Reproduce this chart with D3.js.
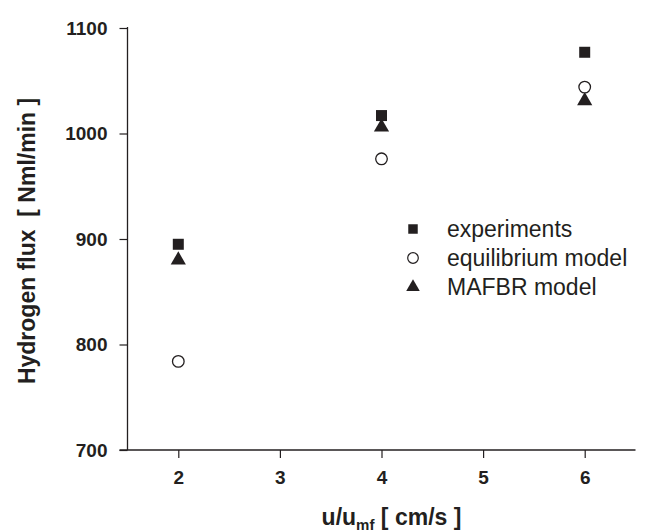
<!DOCTYPE html>
<html>
<head>
<meta charset="utf-8">
<script src="https://cdn.jsdelivr.net/npm/d3@7"></script>
<style>
  body { margin: 0; background: #fff; }
  svg { display: block; font-family: "Liberation Sans", Arial, sans-serif; }
</style>
</head>
<body>
<svg id="chart" width="648" height="532"></svg>
<script>
// Gas velocity ratio positions
const velocities = [2, 4, 6];
// Hydrogen flux [Nml/min] per series
const experiments = [895, 1017, 1077];
const equilibriumModel = [784, 976, 1044];
const mafbrModel = [880, 1006, 1031];

const seriesNames = ["experiments", "equilibrium model", "MAFBR model"];
const xMajorTicks = [2, 3, 4, 5, 6];
const xMinorTicks = [1.5, 2.5, 3.5, 4.5, 5.5, 6.5];
const yMajorTicks = [700, 800, 900, 1000, 1100];
const yMinorTicks = [750, 850, 950, 1050];

const svg = d3.select("#chart");
const ink = "#231f20";

const x = d3.scaleLinear().domain([1.5, 6.5]).range([127.5, 635.5]);
const y = d3.scaleLinear().domain([700, 1100]).range([450, 28]);

// Axes
const gx = svg.append("g").attr("transform", `translate(0,${y(700)})`);
gx.call(d3.axisBottom(x).tickValues(xMinorTicks).tickSize(4).tickFormat(""));
gx.call(d3.axisBottom(x).tickValues(xMajorTicks).tickSize(8).tickPadding(13).tickFormat(d3.format("d")));
gx.selectAll(".domain").remove();
gx.append("line").attr("x1", x(1.5) - 8).attr("x2", x(6.5)).attr("stroke", ink).attr("stroke-width", 1.3);

const gy = svg.append("g").attr("transform", `translate(${x(1.5)},0)`);
gy.call(d3.axisLeft(y).tickValues(yMinorTicks).tickSize(4).tickFormat(""));
gy.call(d3.axisLeft(y).tickValues(yMajorTicks).tickSize(8).tickPadding(12).tickFormat(d3.format("d")));
gy.selectAll(".domain").remove();
gy.append("line").attr("y1", y(1100) - 1).attr("y2", y(700)).attr("stroke", ink).attr("stroke-width", 1.3);

svg.selectAll(".tick line").attr("stroke", ink).attr("stroke-width", 1.2);
svg.selectAll(".tick text")
  .attr("fill", ink)
  .style("font-size", "19px")
  .style("font-weight", "bold")
  .style("font-family", "'Liberation Sans', Arial, sans-serif");

// Axis titles
svg.append("text")
  .attr("transform", `translate(35,${(y(700) + y(1100)) / 2 + 2}) rotate(-90)`)
  .attr("text-anchor", "middle")
  .attr("fill", ink)
  .style("font-size", "23px")
  .style("font-weight", "bold")
  .attr("xml:space", "preserve")
  .text("Hydrogen flux  [ Nml/min ]");

const xt = svg.append("text")
  .attr("x", x(4) + 10)
  .attr("y", 525)
  .attr("text-anchor", "middle")
  .attr("fill", ink)
  .style("font-size", "23px")
  .style("font-weight", "bold");
xt.append("tspan").text("u/u");
xt.append("tspan").attr("dy", 5).style("font-size", "15px").text("mf");
xt.append("tspan").attr("dy", -5).text(" [ cm/s ]");

// Marker shapes
const squareSym = d3.symbol().type(d3.symbolSquare).size(121);
const triSym = d3.symbol().type(d3.symbolTriangle).size(100);

const plot = svg.append("g");

// MAFBR model (triangles)
plot.selectAll("path.tri").data(velocities.map((v, i) => [v, mafbrModel[i]]))
  .join("path").attr("class", "tri")
  .attr("d", triSym)
  .attr("transform", d => `translate(${x(d[0])},${y(d[1])})`)
  .attr("fill", ink);

// Experiments (filled squares)
plot.selectAll("path.sq").data(velocities.map((v, i) => [v, experiments[i]]))
  .join("path").attr("class", "sq")
  .attr("d", squareSym)
  .attr("transform", d => `translate(${x(d[0])},${y(d[1])})`)
  .attr("fill", ink);

// Equilibrium model (open circles)
plot.selectAll("circle.eq").data(velocities.map((v, i) => [v, equilibriumModel[i]]))
  .join("circle").attr("class", "eq")
  .attr("cx", d => x(d[0]))
  .attr("cy", d => y(d[1]))
  .attr("r", 5.8)
  .attr("fill", "#fff")
  .attr("stroke", ink)
  .attr("stroke-width", 1.3);

// Legend
const legend = svg.append("g").attr("transform", "translate(413,229)");
const rowGap = 29;
seriesNames.forEach((name, i) => {
  const row = legend.append("g").attr("transform", `translate(0,${i * rowGap})`);
  if (i === 0) {
    row.append("path").attr("d", d3.symbol().type(d3.symbolSquare).size(90)).attr("fill", ink);
  } else if (i === 1) {
    row.append("circle").attr("r", 5.3).attr("fill", "#fff").attr("stroke", ink).attr("stroke-width", 1.2);
  } else {
    row.append("path").attr("d", d3.symbol().type(d3.symbolTriangle).size(80)).attr("fill", ink);
  }
  row.append("text")
    .attr("x", 34)
    .attr("y", 0)
    .attr("dy", "0.35em")
    .attr("fill", ink)
    .style("font-size", "23px")
    .text(name);
});
</script>
</body>
</html>
